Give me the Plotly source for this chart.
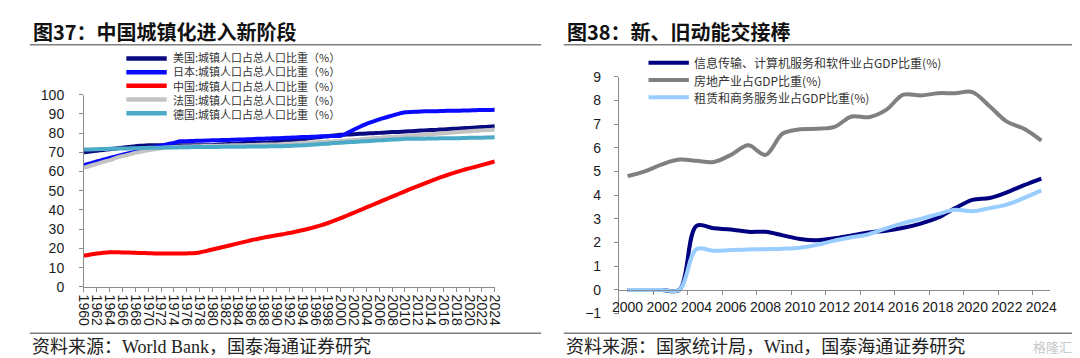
import plotly.graph_objects as go

W, H = 1080, 358

# ---------------- data: 图37 城镇化率 (%) ----------------
years_urban = list(range(1960, 2025))
us_urban = [70.0, 70.4, 70.8, 71.2, 71.6, 72.0, 72.4, 72.8, 73.2, 73.4,
            73.6, 73.6, 73.6, 73.7, 73.7, 73.7, 73.7, 73.7, 73.7, 73.7,
            73.7, 74.0, 74.2, 74.4, 74.6, 74.8, 74.9, 75.0, 75.1, 75.2,
            75.3, 75.7, 76.0, 76.4, 76.7, 77.3, 77.7, 78.0, 78.4, 78.8,
            79.1, 79.2, 79.4, 79.6, 79.8, 79.9, 80.1, 80.3, 80.5, 80.6,
            80.8, 81.0, 81.2, 81.4, 81.6, 81.7, 81.9, 82.1, 82.3, 82.5,
            82.7, 82.9, 83.1, 83.3, 83.5]
japan_urban = [63.3, 64.2, 65.2, 66.1, 67.0, 67.9, 68.7, 69.5, 70.3, 71.1,
               71.9, 72.6, 73.4, 74.2, 74.9, 75.7, 75.8, 75.9, 76.0, 76.1,
               76.2, 76.3, 76.4, 76.5, 76.6, 76.7, 76.8, 77.0, 77.1, 77.2,
               77.3, 77.4, 77.6, 77.7, 77.9, 78.0, 78.1, 78.3, 78.4, 78.5,
               78.6, 80.0, 81.7, 83.3, 84.8, 86.0, 87.1, 88.1, 89.1, 90.0,
               90.8, 91.0, 91.1, 91.3, 91.4, 91.4, 91.5, 91.6, 91.6, 91.7,
               91.8, 91.9, 92.0, 92.0, 92.1]
china_urban = [16.2, 16.8, 17.3, 17.7, 18.0, 18.0, 17.9, 17.8, 17.7, 17.6,
               17.5, 17.4, 17.3, 17.3, 17.3, 17.3, 17.4, 17.5, 17.9, 18.6,
               19.4, 20.2, 21.0, 21.8, 22.6, 23.4, 24.2, 24.9, 25.6, 26.2,
               26.8, 27.4, 28.0, 28.7, 29.4, 30.2, 31.1, 32.1, 33.2, 34.4,
               35.7, 37.1, 38.5, 39.9, 41.3, 42.7, 44.1, 45.5, 46.9, 48.3,
               49.7, 51.1, 52.4, 53.7, 55.0, 56.3, 57.5, 58.6, 59.7, 60.7,
               61.6, 62.5, 63.4, 64.3, 65.2]
france_urban = [61.9, 63.0, 64.0, 65.0, 65.9, 67.1, 68.0, 68.8, 69.7, 70.4,
                71.1, 71.6, 72.1, 72.5, 72.8, 72.9, 73.0, 73.1, 73.2, 73.3,
                73.3, 73.4, 73.5, 73.6, 73.7, 73.7, 73.8, 73.9, 74.0, 74.0,
                74.1, 74.3, 74.5, 74.7, 74.9, 75.0, 75.2, 75.4, 75.6, 75.7,
                75.9, 76.1, 76.4, 76.7, 77.0, 77.3, 77.5, 77.8, 78.0, 78.2,
                78.4, 78.7, 78.9, 79.2, 79.4, 79.7, 79.9, 80.2, 80.4, 80.7,
                80.9, 81.2, 81.4, 81.6, 81.9]
germany_urban = [71.4, 71.5, 71.6, 71.7, 71.8, 71.9, 72.0, 72.0, 72.1, 72.2,
                 72.3, 72.3, 72.4, 72.5, 72.5, 72.6, 72.6, 72.7, 72.7, 72.7,
                 72.8, 72.8, 72.9, 72.9, 72.9, 72.9, 73.0, 73.0, 73.0, 73.1,
                 73.1, 73.2, 73.3, 73.5, 73.6, 73.8, 74.0, 74.3, 74.5, 74.8,
                 75.0, 75.2, 75.4, 75.6, 75.8, 76.0, 76.2, 76.4, 76.6, 76.8,
                 77.0, 77.0, 77.1, 77.1, 77.2, 77.2, 77.3, 77.3, 77.3, 77.4,
                 77.5, 77.5, 77.6, 77.7, 77.8]
urban_names = ["美国:城镇人口占总人口比重（%）", "日本:城镇人口占总人口比重（%）",
               "中国:城镇人口占总人口比重（%）", "法国:城镇人口占总人口比重（%）",
               "德国:城镇人口占总人口比重（%）"]
urban_colors = ["#0a0a80", "#0a0aff", "#ff0000", "#c3c3c3", "#4aaac8"]
left_tick_years = years_urban[::2]
left_tick_text = [str(y) for y in left_tick_years]
left_y_ticks = list(range(0, 101, 10))

# ---------------- data: 图38 占GDP比重 (%) ----------------
years_gdp = list(range(2000, 2025))
info_tech = [0, 0, 0, 0, 2.7, 2.6, 2.55, 2.45, 2.45, 2.3, 2.15, 2.1, 2.18,
             2.3, 2.42, 2.5, 2.62, 2.8, 3.05, 3.45, 3.8, 3.88, 4.12, 4.42, 4.7]
real_estate = [4.8, 5.0, 5.3, 5.5, 5.45, 5.4, 5.7, 6.1, 5.7, 6.6, 6.78, 6.8, 6.88,
               7.32, 7.29, 7.6, 8.24, 8.2, 8.3, 8.3, 8.35, 7.75, 7.1, 6.8, 6.3]
leasing = [0, 0, 0, 0, 1.72, 1.65, 1.68, 1.7, 1.72, 1.74, 1.78, 1.9, 2.08,
           2.22, 2.35, 2.6, 2.82, 3.0, 3.2, 3.38, 3.32, 3.45, 3.6, 3.88, 4.2]
gdp_names = ["信息传输、计算机服务和软件业占GDP比重(%)", "房地产业占GDP比重(%)",
             "租赁和商务服务业占GDP比重(%)"]
gdp_colors = ["#000080", "#808080", "#99ccff"]
right_tick_years = years_gdp[::2]
right_tick_text = [str(y) for y in right_tick_years]
right_y_ticks = list(range(-1, 10))

# ---------------- helpers ----------------
def px(x):
    return x / W

def py(y):
    return 1 - y / H

AX = "#8c8c8c"
TICKFONT = dict(family="Liberation Sans, Arial", size=14, color="#1a1a1a")
CJK = "Noto Sans CJK SC"

fig = go.Figure()

for name, vals, color in zip(urban_names,
                             [us_urban, japan_urban, china_urban, france_urban, germany_urban],
                             urban_colors):
    fig.add_trace(go.Scatter(x=years_urban, y=vals, name=name, mode="lines",
                             line=dict(color=color, width=4, shape="spline", smoothing=0.6),
                             xaxis="x", yaxis="y", showlegend=False, hoverinfo="skip"))

for name, vals, color in zip(gdp_names, [info_tech, real_estate, leasing], gdp_colors):
    fig.add_trace(go.Scatter(x=years_gdp, y=vals, name=name, mode="lines",
                             line=dict(color=color, width=4, shape="spline", smoothing=1.0),
                             xaxis="x2", yaxis="y2", showlegend=False, hoverinfo="skip"))

shapes = []
annotations = []

# titles and rules
for x0, x1, text in [(15, 533, "图37：中国城镇化进入新阶段"), (557, 1073, "图38：新、旧动能交接棒")]:
    annotations.append(dict(xref="paper", yref="paper", x=px(x0), y=py(16), xanchor="left",
                            yanchor="middle", showarrow=False, text="<b>" + text + "</b>",
                            font=dict(family=CJK, size=20, color="#111")))
    shapes.append(dict(type="line", xref="paper", yref="paper", x0=px(x0 - 1), x1=px(x1),
                       y0=py(30), y1=py(30), line=dict(color="#7f7f7f", width=1.5)))
    shapes.append(dict(type="line", xref="paper", yref="paper", x0=px(x0 - 1), x1=px(x1),
                       y0=py(332), y1=py(332), line=dict(color="#7f7f7f", width=1.5)))

# sources
for x0, text in [(14, "资料来源：World Bank，国泰海通证券研究"),
                 (556, "资料来源：国家统计局，Wind，国泰海通证券研究")]:
    annotations.append(dict(xref="paper", yref="paper", x=px(x0), y=py(346), xanchor="left",
                            yanchor="middle", showarrow=False, text=text,
                            font=dict(family="Liberation Serif, " + CJK, size=18, color="#222")))
annotations.append(dict(xref="paper", yref="paper", x=px(1052), y=py(346), xanchor="center",
                        yanchor="middle", showarrow=False, text="格隆汇",
                        font=dict(family=CJK, size=13, color="#c8c8c8")))

# left legend (manual, compact rows: swatches + one multi-line text block)
ROW0, ROWGAP, LEG_FONT = 44.5, 14.3, 11
for i, color in enumerate(urban_colors):
    yy = ROW0 + ROWGAP * i
    shapes.append(dict(type="line", xref="paper", yref="paper", x0=px(112), x1=px(153),
                       y0=py(yy), y1=py(yy), line=dict(color=color, width=4.5)))
annotations.append(dict(xref="paper", yref="paper", x=px(157),
                        y=py(ROW0 + ROWGAP * (len(urban_names) - 1) / 2),
                        xanchor="left", yanchor="middle", showarrow=False, align="left",
                        text="<br>".join(urban_names),
                        font=dict(family=CJK, size=LEG_FONT, color="#333")))

# right legend
for i, (name, color) in enumerate(zip(gdp_names, gdp_colors)):
    yy = 49 + 18 * i
    shapes.append(dict(type="line", xref="paper", yref="paper", x0=px(642), x1=px(683),
                       y0=py(yy), y1=py(yy), line=dict(color=color, width=4)))
    annotations.append(dict(xref="paper", yref="paper", x=px(686), y=py(yy), xanchor="left",
                            yanchor="middle", showarrow=False, text=name,
                            font=dict(family=CJK, size=12, color="#333")))

fig.update_layout(
    width=W, height=H, margin=dict(l=0, r=0, t=0, b=0),
    paper_bgcolor="white", plot_bgcolor="white", showlegend=False,
    xaxis=dict(domain=[px(69), px(486)], range=[1960, 2024], tickmode="array",
               tickvals=left_tick_years, ticktext=left_tick_text, tickangle=90,
               ticks="outside", ticklen=4, tickcolor=AX, showline=True, linecolor=AX,
               linewidth=1, showgrid=False, zeroline=False, tickfont=TICKFONT,
               anchor="y", fixedrange=True),
    yaxis=dict(domain=[py(283.5), py(82.3)], range=[0, 100], tickmode="array",
               tickvals=left_y_ticks, ticks="outside", ticklen=4, tickcolor=AX,
               showline=True, linecolor=AX, linewidth=1, showgrid=False, zeroline=False,
               tickfont=TICKFONT, ticklabelstandoff=12, anchor="x", fixedrange=True),
    xaxis2=dict(domain=[px(612), px(1049.5)], range=[1999.5, 2024.5], tickmode="array",
                tickvals=right_tick_years, ticktext=right_tick_text, tickangle=0,
                ticks="outside", ticklen=4, tickcolor="rgba(0,0,0,0)",
                minor=dict(tickmode="array", tickvals=[y - 0.5 for y in right_tick_years],
                           ticks="outside", ticklen=4, tickcolor=AX, showgrid=False),
                showline=True, linecolor=AX, linewidth=1, showgrid=False, zeroline=False,
                tickfont=TICKFONT, anchor="free", position=py(286.7), fixedrange=True),
    yaxis2=dict(domain=[py(311.5), py(63.5)], range=[-1, 9], tickmode="array",
                tickvals=right_y_ticks, ticks="outside", ticklen=4, tickcolor=AX,
                showline=True, linecolor=AX, linewidth=1, showgrid=False, zeroline=False,
                tickfont=TICKFONT, ticklabelstandoff=10, anchor="x2", fixedrange=True),
    shapes=shapes, annotations=annotations,
)

fig.write_html("out.html")
